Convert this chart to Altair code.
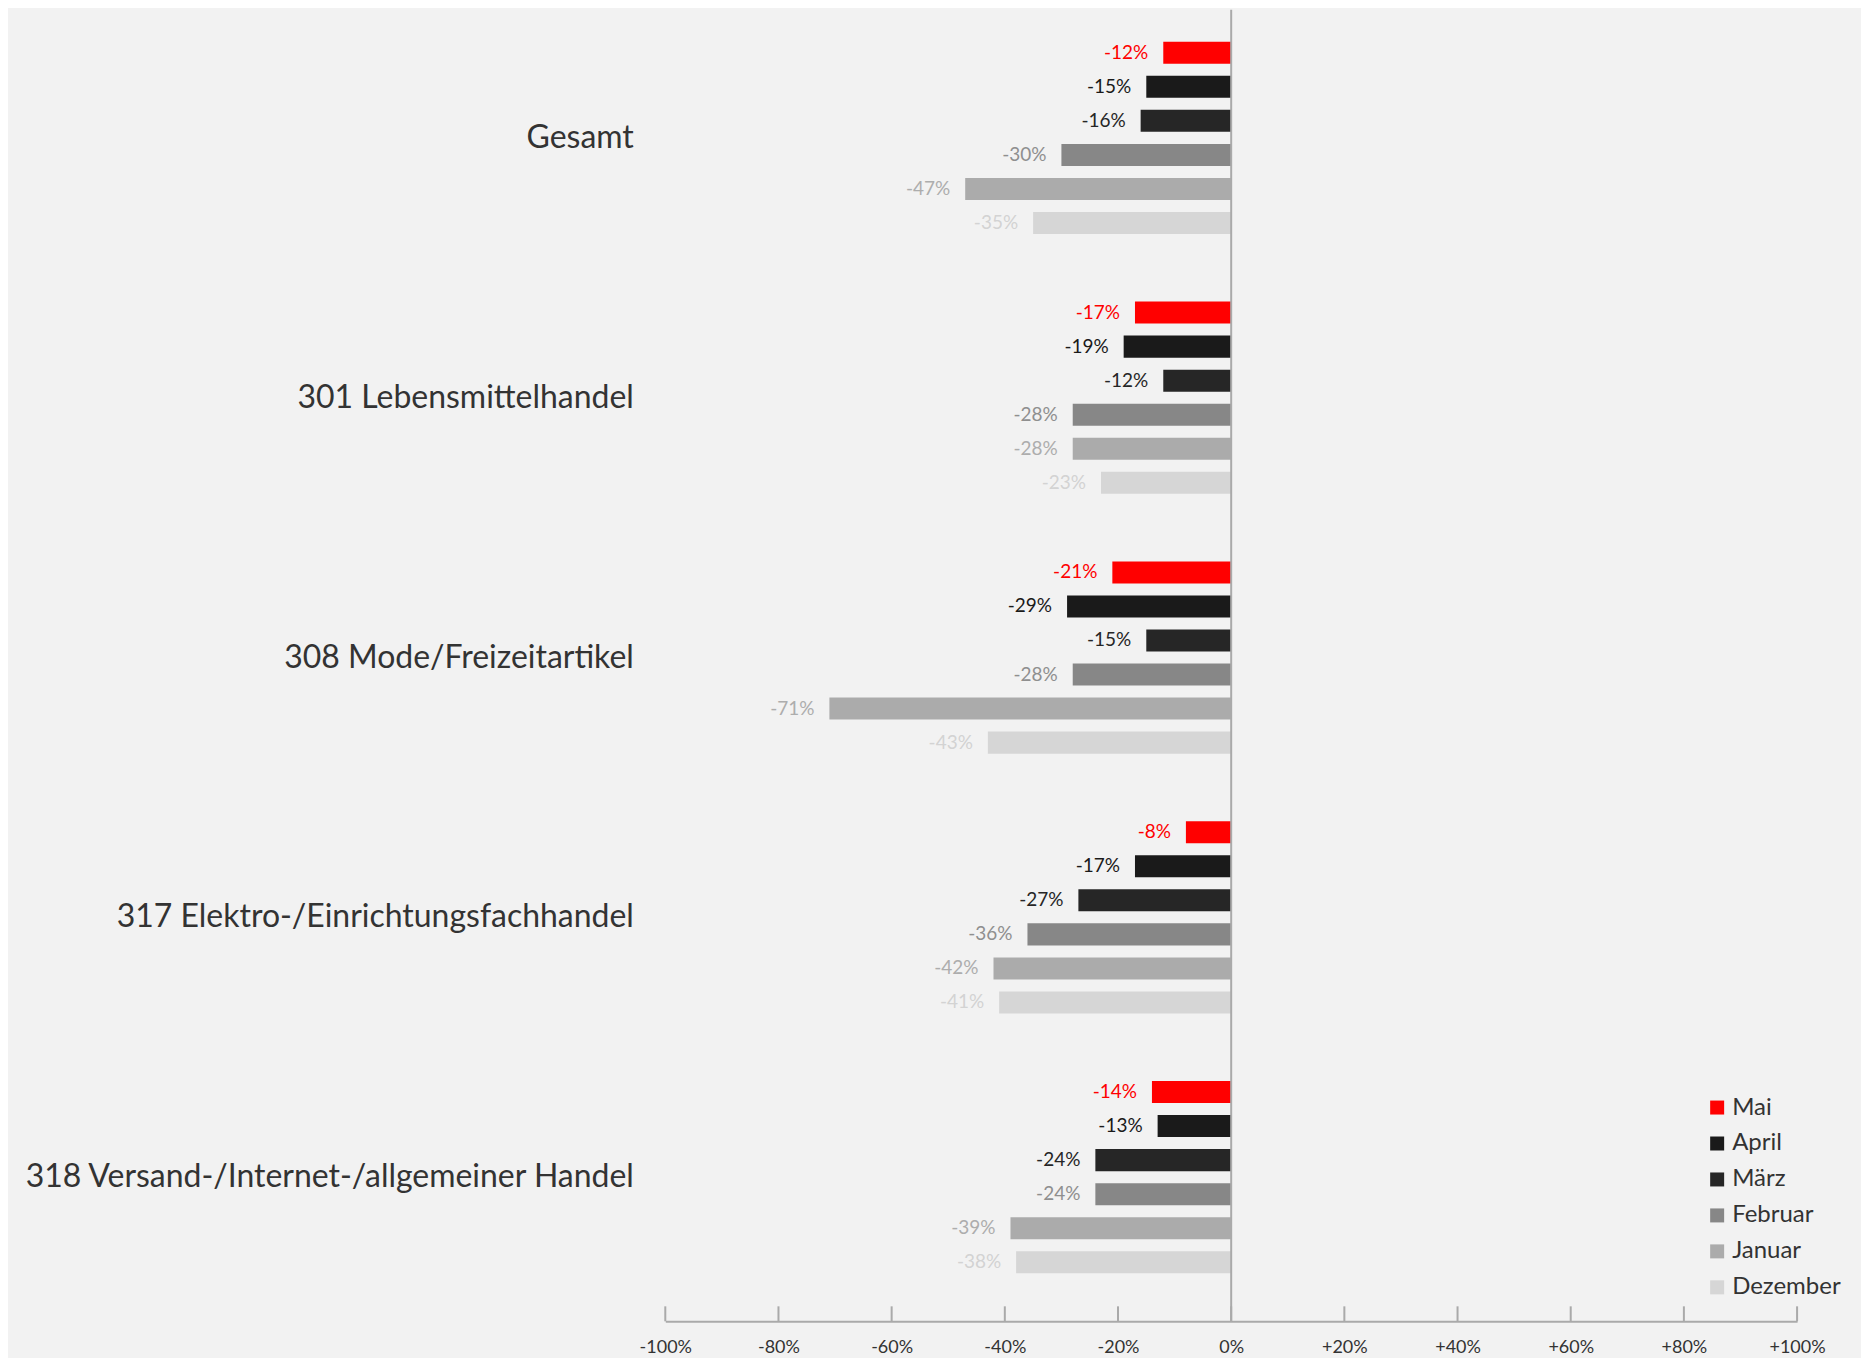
import altair as alt
import pandas as pd

categories = [
    "Gesamt",
    "301 Lebensmittelhandel",
    "308 Mode/Freizeitartikel",
    "317 Elektro-/Einrichtungsfachhandel",
    "318 Versand-/Internet-/allgemeiner Handel",
]
months = ["Mai", "April", "März", "Februar", "Januar", "Dezember"]
bar_colors = ["#ff0000", "#1a1a1a", "#262626", "#878787", "#ababab", "#d6d6d6"]
label_colors = ["#ff0000", "#1a1a1a", "#262626", "#8f8f8f", "#adadad", "#d3d3d3"]

gesamt = [-12, -15, -16, -30, -47, -35]
lebensmittel = [-17, -19, -12, -28, -28, -23]
mode = [-21, -29, -15, -28, -71, -43]
elektro = [-8, -17, -27, -36, -42, -41]
versand = [-14, -13, -24, -24, -39, -38]
series = [gesamt, lebensmittel, mode, elektro, versand]

tick_values = [-100, -80, -60, -40, -20, 0, 20, 40, 60, 80, 100]

rows = []
for cat, vals in zip(categories, series):
    for m, v, lc in zip(months, vals, label_colors):
        rows.append({"category": cat, "month": m, "value": v,
                     "label": f"{v}%", "lcolor": lc})
df = pd.DataFrame(rows)

W = 1133
H = 1313

x_enc = alt.X(
    "value:Q",
    scale=alt.Scale(domain=[-100, 100], nice=False),
    axis=alt.Axis(
        title=None, values=tick_values, grid=False, ticks=False,
        domainColor="#aaaaaa", domainWidth=2, labelFlush=False, labelOverlap=False,
        labelExpr="datum.value > 0 ? '+' + datum.value + '%' : datum.value + '%'",
        labelFont="Lato", labelFontSize=18, labelColor="#333333", labelPadding=17,
    ),
)
y_enc = alt.Y(
    "category:N", sort=categories,
    scale=alt.Scale(paddingInner=0.26, paddingOuter=0.154, align=0.4),
    axis=alt.Axis(
        title=None, domain=False, ticks=False, labelFont="Lato",
        labelFontSize=32, labelColor="#333333", labelPadding=32, labelLimit=1000,
    ),
)
yo_enc = alt.YOffset("month:N", sort=months,
                     scale=alt.Scale(paddingInner=0.353, paddingOuter=0))

bars = alt.Chart(df).mark_bar().encode(
    x=x_enc, y=y_enc, yOffset=yo_enc,
    color=alt.Color(
        "month:N", sort=months,
        scale=alt.Scale(domain=months, range=bar_colors),
        legend=alt.Legend(
            title=None, orient="none", legendX=1041, legendY=1087,
            symbolType="square", symbolSize=196, symbolStrokeWidth=0,
            labelFont="Lato", labelFontSize=24, labelColor="#333333",
            rowPadding=12, labelOffset=3,
        ),
    ),
)

texts = alt.Chart(df).mark_text(
    align="right", baseline="middle", dx=-15, font="Lato", fontSize=19
).encode(
    x="value:Q", y=alt.Y("category:N", sort=categories),
    yOffset=alt.YOffset("month:N", sort=months),
    text="label:N",
    color=alt.Color("lcolor:N", scale=None),
)

zero = alt.Chart(pd.DataFrame({"zero": [0]})).mark_rule(
    color="#aaaaaa", strokeWidth=2
).encode(x="zero:Q")

ticks = alt.Chart(pd.DataFrame({"t": tick_values})).mark_rule(
    color="#aaaaaa", strokeWidth=2
).encode(x="t:Q", y=alt.value(H - 15), y2=alt.value(H))

chart = alt.layer(bars, texts, zero, ticks).properties(
    width=W, height=H,
    padding={"left": 15, "top": 0, "right": 20, "bottom": 3},
    background="#f2f2f2",
).configure(font="Lato").configure_view(stroke="transparent")

chart.save("out.html", embed_options={"renderer": "svg", "actions": False})
